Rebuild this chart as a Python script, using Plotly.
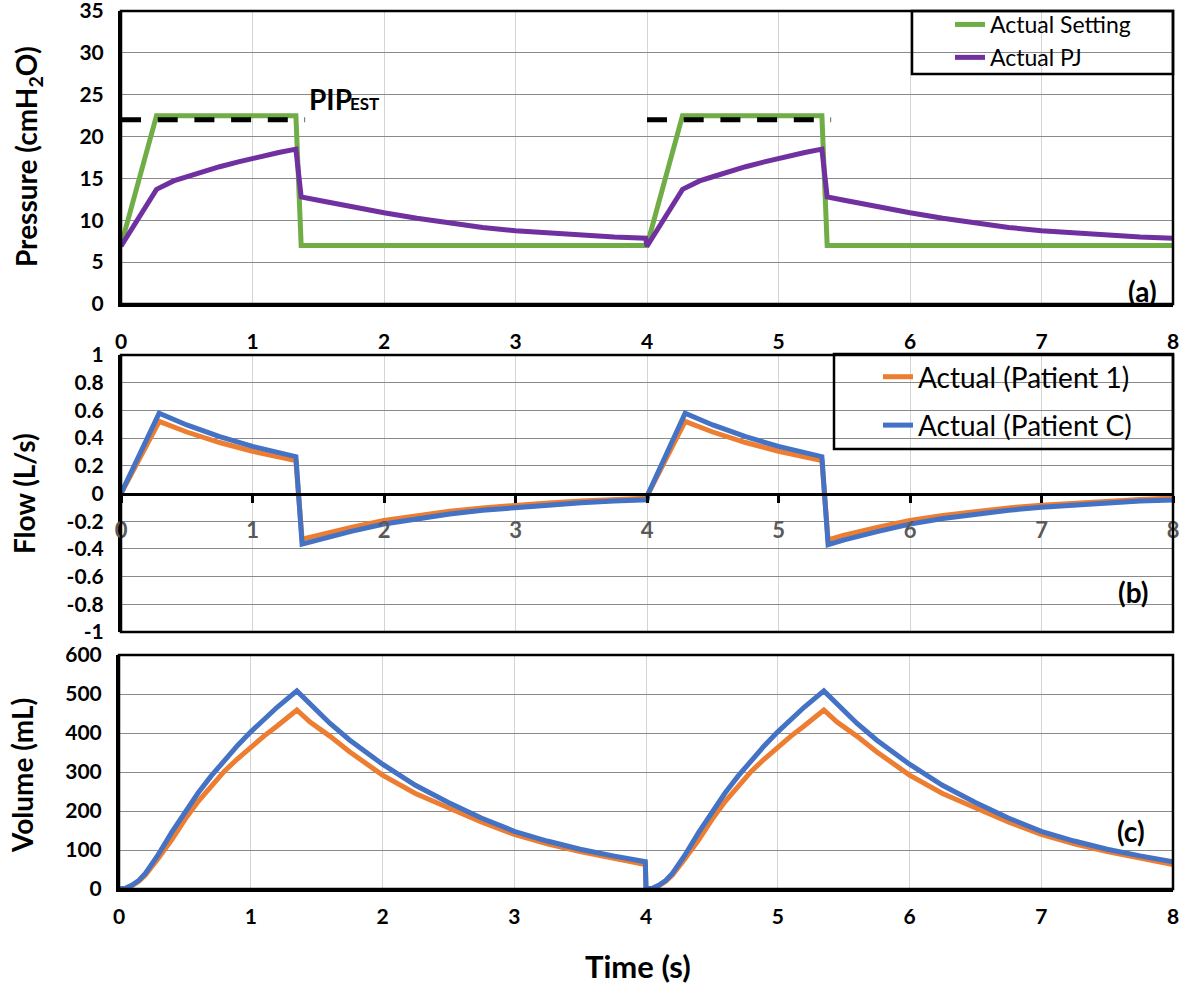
import plotly.graph_objects as go

# ---------------- data ----------------
# Panel (a): pressure
t_setting = [0, 0.27, 1.33, 1.37, 4.0, 4.27, 5.33, 5.37, 8.0]
p_setting = [7, 22.5, 22.5, 7, 7, 22.5, 22.5, 7, 7]

t_pj = [0, 0.27, 0.4, 0.5, 0.6, 0.75, 0.9, 1.0, 1.1, 1.2, 1.33, 1.37, 1.5, 1.75, 2.0, 2.25, 2.5,
        2.75, 3.0, 3.25, 3.5, 3.75, 3.99,
        4.0, 4.27, 4.4, 4.5, 4.6, 4.75, 4.9, 5.0, 5.1, 5.2, 5.33, 5.37, 5.5, 5.75, 6.0, 6.25, 6.5,
        6.75, 7.0, 7.25, 7.5, 7.75, 8.0]
p_pj = [6.9, 13.7, 14.7, 15.2, 15.7, 16.4, 17.0, 17.4, 17.8, 18.1, 18.5, 12.8, 12.4, 11.6, 10.9, 10.25, 9.65,
        9.15, 8.75, 8.45, 8.2, 8.0, 7.85,
        6.9, 13.7, 14.7, 15.2, 15.7, 16.4, 17.0, 17.4, 17.8, 18.1, 18.5, 12.8, 12.4, 11.6, 10.9, 10.25, 9.65,
        9.15, 8.75, 8.45, 8.2, 8.0, 7.85]

t_pip1 = [0, 1.4]
t_pip2 = [4.0, 5.4]
p_pip = [22, 22]

# Panel (b): flow
t_flow = [0, 0.29, 0.5, 0.75, 1.0, 1.25, 1.33, 1.377, 1.5, 1.75, 2.0, 2.25, 2.5, 2.75, 3.0, 3.25, 3.5,
          3.75, 4.0,
          4.01, 4.29, 4.5, 4.75, 5.0, 5.25, 5.33, 5.377, 5.5, 5.75, 6.0, 6.25, 6.5, 6.75, 7.0, 7.25, 7.5,
          7.75, 8.0]
flow_p1 = [0, 0.52, 0.444, 0.368, 0.305, 0.253, 0.237, -0.33, -0.30, -0.245, -0.195, -0.158, -0.128,
           -0.104, -0.084, -0.068, -0.055, -0.044, -0.035,
           0, 0.52, 0.444, 0.368, 0.305, 0.253, 0.237, -0.335, -0.30, -0.245, -0.195, -0.158, -0.128,
           -0.104, -0.084, -0.068, -0.055, -0.044, -0.033]
flow_pc = [0, 0.58, 0.495, 0.41, 0.34, 0.282, 0.266, -0.365, -0.333, -0.273, -0.220, -0.180, -0.148,
           -0.121, -0.100, -0.082, -0.067, -0.055, -0.046,
           0, 0.58, 0.495, 0.41, 0.34, 0.282, 0.266, -0.37, -0.335, -0.275, -0.221, -0.180, -0.148,
           -0.121, -0.100, -0.082, -0.067, -0.055, -0.047]

# Panel (c): volume
t_vol = [0, 0.05, 0.1, 0.15, 0.2, 0.25, 0.29, 0.4, 0.5, 0.6, 0.7, 0.8, 0.9, 1.0, 1.1, 1.2, 1.35, 1.45,
         1.6, 1.75, 2.0, 2.25, 2.5, 2.75, 3.0, 3.25, 3.5, 3.75, 3.995,
         4.0, 4.05, 4.1, 4.15, 4.2, 4.25, 4.29, 4.4, 4.5, 4.6, 4.7, 4.8, 4.9, 5.0, 5.1, 5.2, 5.35, 5.45,
         5.6, 5.75, 6.0, 6.25, 6.5, 6.75, 7.0, 7.25, 7.5, 7.75, 8.0]
vol_p1 = [0, 2, 9, 20, 36, 56, 75, 126, 178, 224, 265, 302, 334, 364, 392, 418, 459, 428,
          392, 352, 292, 245, 207, 172, 140, 116, 96, 78, 63,
          0, 2, 9, 20, 36, 56, 75, 126, 178, 224, 265, 302, 334, 364, 392, 418, 459, 428,
          392, 352, 292, 245, 207, 172, 140, 116, 96, 78, 63]
vol_pc = [0, 2, 10, 22, 40, 62, 84, 145, 198, 246, 290, 330, 368, 403, 436, 466, 508, 473,
          425, 382, 320, 266, 222, 182, 148, 123, 102, 85, 70,
          0, 2, 10, 22, 40, 62, 84, 145, 198, 246, 290, 330, 368, 403, 436, 466, 508, 473,
          425, 382, 320, 266, 222, 182, 148, 123, 102, 85, 70]

x_ticks = [0, 1, 2, 3, 4, 5, 6, 7, 8]
flow_tickvals = [-1, -0.8, -0.6, -0.4, -0.2, 0, 0.2, 0.4, 0.6, 0.8, 1]
flow_ticktext = ["-1", "-0.8", "-0.6", "-0.4", "-0.2", "0", "0.2", "0.4", "0.6", "0.8", "1"]

# ---------------- styling ----------------
W, H = 1180, 986
FONT = "Lato"
GREEN, PURPLE, ORANGE, BLUE = "#70AD47", "#7030A0", "#ED7D31", "#4472C4"
HGRID, VGRID = "#8a8a8a", "#d4d4d4"
LW = 5


def px(p):
    return p / W


def py(p):
    return 1 - p / H


x_dom = [px(121), px(1173)]
xc_dom = [px(119), px(1173)]
ya_dom = [py(304), py(11)]
yb_dom = [py(632), py(355)]
yc_dom = [py(889), py(655)]

fig = go.Figure()

# panel (a)
fig.add_trace(go.Scatter(x=t_setting, y=p_setting, mode="lines", name="Actual Setting",
                         line=dict(color=GREEN, width=LW), xaxis="x", yaxis="y",
                         legend="legend", legendgroup="a1"))
fig.add_trace(go.Scatter(x=t_pj, y=p_pj, mode="lines", name="Actual PJ",
                         line=dict(color=PURPLE, width=LW), xaxis="x", yaxis="y",
                         legend="legend", legendgroup="a2"))
for tp in (t_pip1, t_pip2):
    fig.add_trace(go.Scatter(x=tp, y=p_pip, mode="lines", showlegend=False,
                             line=dict(color="black", width=5, dash="20px,16.7px"),
                             xaxis="x", yaxis="y"))

# panel (b)
fig.add_trace(go.Scatter(x=t_flow, y=flow_p1, mode="lines", name="Actual (Patient 1)",
                         line=dict(color=ORANGE, width=LW), xaxis="x2", yaxis="y2",
                         legend="legend2", legendgroup="b1"))
fig.add_trace(go.Scatter(x=t_flow, y=flow_pc, mode="lines", name="Actual (Patient C)",
                         line=dict(color=BLUE, width=LW), xaxis="x2", yaxis="y2",
                         legend="legend2", legendgroup="b2"))

# panel (c)
fig.add_trace(go.Scatter(x=t_vol, y=vol_p1, mode="lines", showlegend=False,
                         line=dict(color=ORANGE, width=LW), xaxis="x3", yaxis="y3"))
fig.add_trace(go.Scatter(x=t_vol, y=vol_pc, mode="lines", showlegend=False,
                         line=dict(color=BLUE, width=LW), xaxis="x3", yaxis="y3"))

tickfont = dict(family=FONT, size=21, color="black", weight="bold")

xcommon = dict(range=[0, 8], tickvals=x_ticks, showgrid=True, gridcolor=VGRID,
               gridwidth=1, zeroline=False, showline=True, linecolor="black", linewidth=3,
               automargin=False, ticklabeloverflow="allow")
ycommon = dict(showgrid=True, gridcolor=HGRID, gridwidth=1, zeroline=False, showline=True,
               linecolor="black", linewidth=3, ticks="", tickfont=tickfont, ticklabelstandoff=10,
               automargin=False, ticklabeloverflow="allow")

fig.update_layout(
    template="none",
    width=W, height=H, autosize=False,
    margin=dict(l=0, r=0, t=0, b=0, pad=0),
    paper_bgcolor="white", plot_bgcolor="white",
    font=dict(family=FONT, color="black"),
    hovermode=False,
    xaxis=dict(**xcommon, domain=x_dom, anchor="y", ticks="", ticklabelstandoff=17,
               tickfont=tickfont),
    yaxis=dict(**ycommon, domain=ya_dom, anchor="x", range=[0, 35], dtick=5),
    xaxis2=dict(**xcommon, domain=x_dom, anchor="free",
                position=py(493.5), ticks="outside", ticklen=7, tickwidth=3, tickcolor="black",
                tickfont=dict(family=FONT, size=22, color="#595959", weight="bold"),
                ticklabelstandoff=9),
    yaxis2=dict(**ycommon, domain=yb_dom, anchor="x2", range=[-1, 1], tickvals=flow_tickvals,
                ticktext=flow_ticktext),
    xaxis3=dict(**xcommon, domain=xc_dom, anchor="y3", ticks="", ticklabelstandoff=7,
                tickfont=tickfont),
    yaxis3=dict(**ycommon, domain=yc_dom, anchor="x3", range=[0, 600], dtick=100),
    legend=dict(x=px(950), y=py(3), xanchor="left", yanchor="top", bgcolor="rgba(0,0,0,0)",
                borderwidth=0, font=dict(family=FONT, size=23, color="black"),
                traceorder="grouped", tracegroupgap=0),
    legend2=dict(x=px(878), y=py(352), xanchor="left", yanchor="top", bgcolor="rgba(0,0,0,0)",
                 borderwidth=0, font=dict(family=FONT, size=28, color="black"),
                 traceorder="grouped", tracegroupgap=9),
    showlegend=True,
)

shapes = []
for xr, yr in (("x", "y"), ("x2", "y2"), ("x3", "y3")):
    shapes.append(dict(type="rect", xref=f"{xr} domain", yref=f"{yr} domain", x0=0, x1=1, y0=0,
                       y1=1, line=dict(color="black", width=2.5), layer="above"))
# legend frames
shapes.append(dict(type="rect", xref="paper", yref="paper", x0=px(912), x1=px(1173), y0=py(74),
                   y1=py(11), line=dict(color="black", width=2.5)))
shapes.append(dict(type="rect", xref="paper", yref="paper", x0=px(834), x1=px(1173), y0=py(449),
                   y1=py(354), line=dict(color="black", width=2.5)))
fig.update_layout(shapes=shapes)

lab = dict(family=FONT, size=28, color="black", weight="bold")
ttl = dict(family=FONT, size=28, color="black", weight="bold")
C = dict(xref="paper", yref="paper", showarrow=False, xanchor="center", yanchor="middle")
ann = [
    dict(**C, x=px(1142), y=py(291), text="(a)", font=lab),
    dict(**C, x=px(1133), y=py(592), text="(b)", font=lab),
    dict(**C, x=px(1131), y=py(831), text="(c)", font=lab),
    dict(x=px(307), y=py(99), xref="paper", yref="paper", xanchor="left", yanchor="middle",
         text="PIP", showarrow=False,
         font=dict(family=FONT, size=28, color="black", weight="bold")),
    dict(x=px(348), y=py(103), xref="paper", yref="paper", xanchor="left", yanchor="middle",
         text="EST", showarrow=False,
         font=dict(family=FONT, size=17, color="black", weight="bold")),
    dict(**C, x=px(28), y=py(157), text="Pressure (cmH<sub>2</sub>O)", textangle=-90, font=ttl),
    dict(**C, x=px(24), y=py(494), text="Flow (L/s)", textangle=-90, font=ttl),
    dict(**C, x=px(22), y=py(776), text="Volume (mL)", textangle=-90, font=ttl),
    dict(**C, x=px(638), y=py(966), text="Time (s)",
         font=dict(family=FONT, size=31, color="black", weight="bold")),
]
fig.update_layout(annotations=ann)

fig.write_html("out.html", config={"displayModeBar": False},
               post_script="document.body.style.margin='0px';")
